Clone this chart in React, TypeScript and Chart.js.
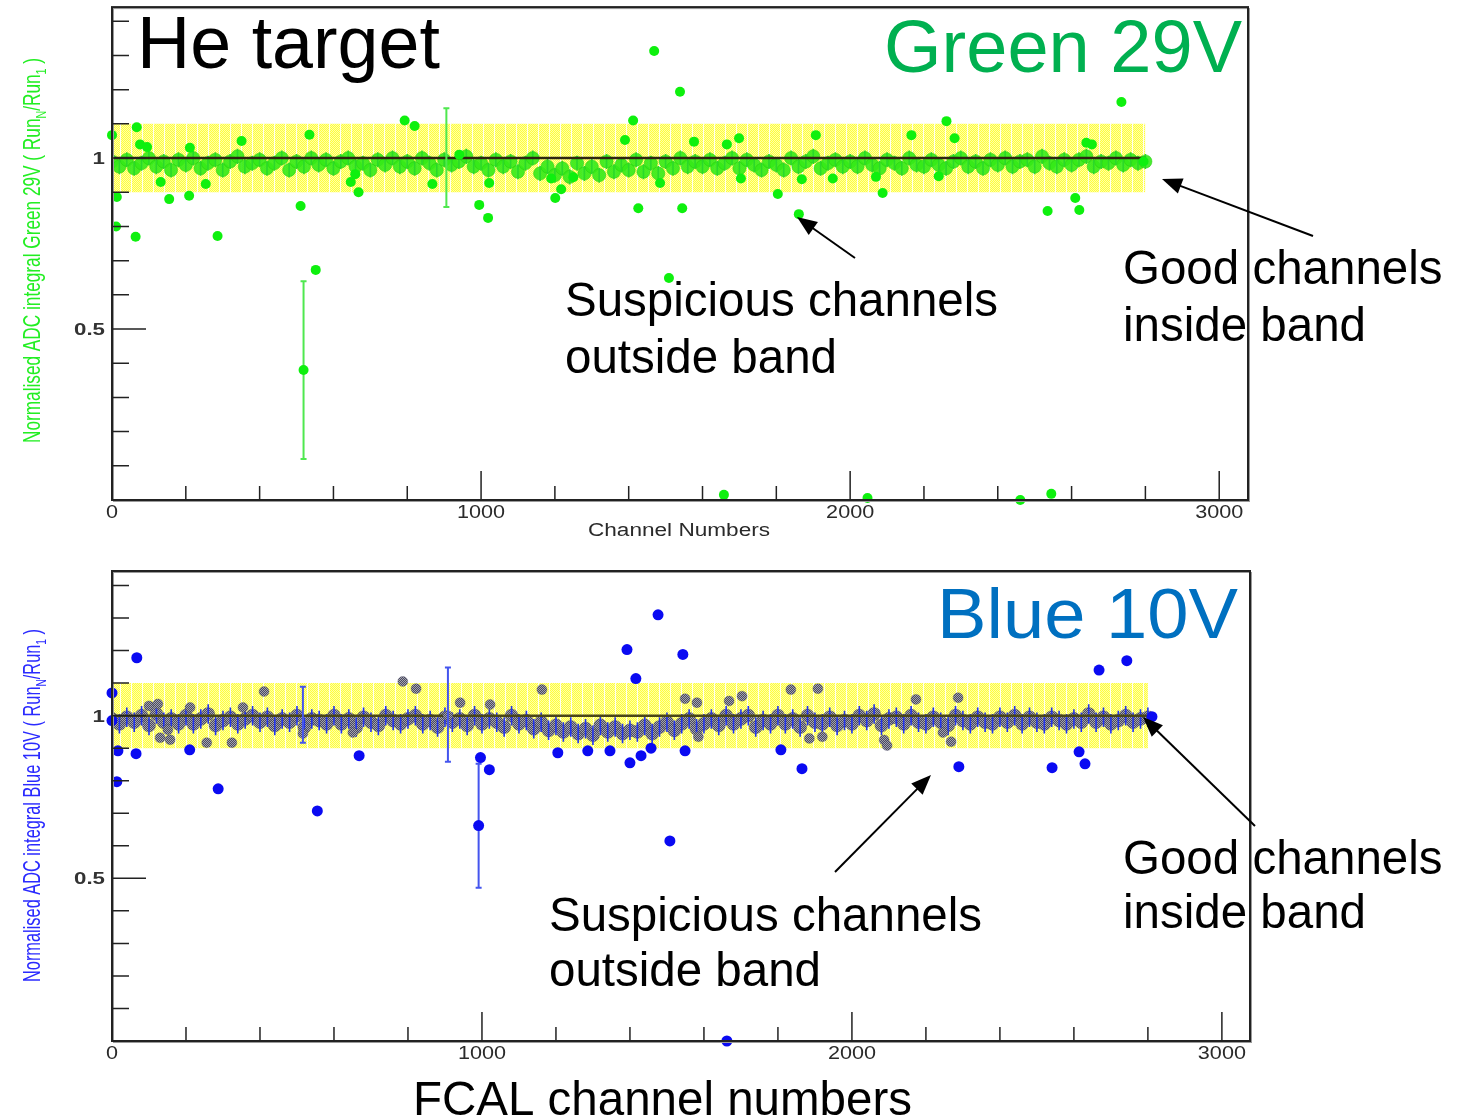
import React, { useEffect, useRef } from "react";
import { Chart, registerables } from "chart.js";

Chart.register(...registerables);

// ---------------- data ----------------
const CORE_STEP = 20; // channel spacing of the in-band core markers

const greenCore = [
  0.99, 0.975, 0.995, 0.97, 0.985, 1.0, 0.975, 0.99, 0.965, 0.995,
  0.98, 1.0, 0.97, 0.985, 0.995, 0.965, 0.99, 1.005, 0.975, 0.985,
  0.995, 0.97, 0.985, 1.0, 0.965, 0.99, 0.975, 1.0, 0.98, 0.995,
  0.97, 0.99, 1.0, 0.975, 0.985, 0.965, 0.995, 0.98, 1.0, 0.975,
  0.99, 0.97, 1.0, 0.985, 0.965, 0.995, 0.98, 0.99, 1.005, 0.975,
  0.985, 0.965, 0.995, 0.975, 0.99, 0.96, 0.985, 1.0, 0.955, 0.975,
  0.95, 0.97, 0.945, 0.985, 0.955, 0.975, 0.95, 0.99, 0.96, 0.98,
  0.965, 0.995, 0.96, 0.985, 0.955, 0.99, 0.97, 1.0, 0.975, 0.99,
  0.975, 0.995, 0.97, 0.985, 1.0, 0.97, 0.995, 0.98, 0.965, 0.99,
  0.98, 0.965, 1.0, 0.975, 0.99, 1.005, 0.97, 0.985, 0.995, 0.975,
  0.99, 0.975, 1.0, 0.98, 0.97, 0.995, 0.985, 0.97, 1.0, 0.98,
  0.975, 0.995, 0.98, 0.97, 0.99, 1.0, 0.975, 0.99, 0.97, 0.995,
  0.98, 1.0, 0.975, 0.99, 0.995, 0.975, 1.005, 0.985, 0.975, 0.995,
  0.98, 0.995, 1.005, 0.975, 0.99, 0.985, 1.0, 0.98, 0.995, 0.985,
  0.99,
];

const blueCore = [
  0.99, 0.975, 0.995, 0.98, 1.0, 0.97, 1.005, 0.98, 0.99, 0.975,
  1.0, 0.975, 0.99, 1.005, 0.97, 0.985, 0.995, 0.975, 0.99, 1.0,
  0.98, 0.995, 0.97, 0.99, 0.98, 1.0, 0.965, 0.99, 0.985, 0.975,
  1.0, 0.975, 0.99, 0.965, 0.995, 0.98, 0.97, 1.0, 0.985, 0.975,
  0.99, 1.0, 0.975, 0.985, 0.965, 0.995, 0.98, 0.99, 0.97, 1.0,
  0.975, 0.99, 0.98, 0.965, 1.0, 0.975, 0.985, 0.96, 0.98, 0.955,
  0.97, 0.95, 0.965, 0.945, 0.96, 0.94, 0.97, 0.95, 0.965, 0.945,
  0.955, 0.95, 0.97, 0.945, 0.965, 0.98, 0.955, 0.975, 0.99, 0.96,
  0.975, 0.99, 0.97, 1.0, 0.975, 0.99, 1.0, 0.965, 0.985, 0.975,
  1.0, 0.975, 0.99, 0.965, 1.0, 0.98, 0.975, 0.995, 0.97, 0.985,
  0.975, 1.0, 0.985, 1.005, 0.97, 0.99, 0.995, 0.975, 1.0, 0.98,
  0.975, 0.995, 0.98, 0.97, 1.0, 0.985, 0.975, 0.995, 0.98, 0.975,
  0.995, 0.98, 1.0, 0.975, 0.995, 0.98, 0.975, 0.995, 0.985, 0.975,
  0.99, 0.98, 1.005, 0.98, 0.995, 0.975, 0.985, 1.0, 0.98, 0.99,
  0.995,
];

const greenCoreErr = 0.022;
const blueCoreErr = 0.03;

const greenOutX = [
  0, 13, 11, 64, 67, 76, 95, 132, 155, 209,
  211, 254, 286, 351, 511, 519, 535, 552, 647, 659,
  668, 793, 820, 868, 941, 995, 1019, 1022, 1190, 1201,
  1217, 1250, 1390, 1412, 1426, 1469, 1485, 1509, 1539, 1545,
  1577, 1658, 1666, 1699, 1704, 1804, 1861, 1869, 1907, 1953,
  2047, 2070, 2088, 2166, 2240, 2261, 2283, 2461, 2535, 2545,
  2610, 2621, 2640, 2655, 2735, 2795,
];
const greenOutY = [
  1.067, 0.886, 0.8, 0.77, 1.09, 1.04, 1.032, 0.93, 0.88, 0.89,
  1.03, 0.924, 0.772, 1.05, 0.86, 0.38, 1.068, 0.673, 0.93, 0.953,
  0.9, 1.11, 1.094, 0.924, 1.01, 0.863, 0.825, 0.927, 0.94, 0.883,
  0.909, 0.944, 1.053, 1.11, 0.853, 1.313, 0.927, 0.649, 1.194, 0.853,
  1.048, 0.015, 1.04, 1.058, 0.94, 0.895, 0.836, 0.938, 1.067, 0.94,
  0.006, 0.945, 0.898, 1.067, 0.947, 1.108, 1.058, 0.0, 0.845, 0.018,
  0.883, 0.848, 1.045, 1.04, 1.164, 0.99,
];
const greenErrX = [519, 906];
const greenErrLo = [0.12, 0.857];
const greenErrHi = [0.64, 1.146];

const blueOutX = [
  0, 0, 13, 16, 65, 67, 210, 287, 555, 668,
  991, 996, 1020, 1205, 1286, 1346, 1392, 1400, 1416, 1430,
  1457, 1476, 1508, 1543, 1549, 1662, 1808, 1865, 2289, 2541,
  2614, 2630, 2668, 2743, 2811,
];
const blueOutY = [
  1.07, 0.985, 0.797, 0.892, 0.883, 1.178, 0.895, 0.775, 0.707, 0.877,
  0.662, 0.871, 0.834, 0.886, 0.892, 0.892, 1.203, 0.855, 1.114, 0.877,
  0.9, 1.31, 0.615, 1.188, 0.892, 0.0, 0.895, 0.837, 0.843, 0.84,
  0.889, 0.852, 1.14, 1.169, 0.997,
];
const blueInX = [
  100, 124, 130, 151, 157, 211, 256, 324, 354, 411,
  516, 651, 786, 822, 908, 941, 1022, 1162, 1549, 1581,
  1585, 1668, 1703, 1835, 1885, 1908, 1920, 2087, 2095, 2173,
  2246, 2268, 2287,
];
const blueInY = [
  1.03, 1.036, 0.932, 0.957, 0.926, 1.025, 0.917, 0.917, 1.025, 1.074,
  0.945, 0.948, 1.105, 1.083, 1.0, 1.04, 1.034, 1.08, 1.052, 1.04,
  0.935, 1.045, 1.06, 1.08, 0.93, 1.083, 0.935, 0.925, 0.908, 1.05,
  0.948, 0.92, 1.055,
];
const blueErrX = [516, 908, 991];
const blueErrLo = [0.917, 0.858, 0.471];
const blueErrHi = [1.089, 1.148, 0.852];

const xMajorTicks = [0, 1000, 2000, 3000];
const xMinorTicks = [200, 400, 600, 800, 1200, 1400, 1600, 1800, 2200, 2400, 2600, 2800];
const yMajorTicks = [0.5, 1];
const yMinorTicks = [0.1, 0.2, 0.3, 0.4, 0.6, 0.7, 0.8, 0.9, 1.1, 1.2, 1.3, 1.4];

const bandLow = 0.9;
const bandHigh = 1.1;
const bandStart = 0;
const bandEnd = 2800;
const refLevel = 1;

// ---------------- drawing helpers ----------------
const FONT = '"Liberation Sans", Arial, Helvetica, sans-serif';

function drawText(ctx: CanvasRenderingContext2D, text: string, x: number, y: number,
  size: number, color: string, opts: { width?: number; align?: string; weight?: string; sx?: number } = {}) {
  ctx.save();
  ctx.font = `${opts.weight || "normal"} ${size}px ${FONT}`;
  ctx.fillStyle = color;
  ctx.textBaseline = "alphabetic";
  ctx.textAlign = "left";
  const w = ctx.measureText(text).width;
  const sx = opts.width ? opts.width / w : (opts.sx || 1);
  const tw = w * sx;
  const left = opts.align === "center" ? x - tw / 2 : opts.align === "right" ? x - tw : x;
  ctx.translate(left, y);
  ctx.scale(sx, 1);
  ctx.fillText(text, 0, 0);
  ctx.restore();
}

function drawArrow(ctx: CanvasRenderingContext2D, x1: number, y1: number, x2: number, y2: number) {
  const ang = Math.atan2(y2 - y1, x2 - x1);
  const hl = 20, hw = 8;
  ctx.save();
  ctx.strokeStyle = "#000";
  ctx.fillStyle = "#000";
  ctx.lineWidth = 2;
  ctx.beginPath();
  ctx.moveTo(x1, y1);
  ctx.lineTo(x2 - Math.cos(ang) * hl * 0.8, y2 - Math.sin(ang) * hl * 0.8);
  ctx.stroke();
  ctx.beginPath();
  ctx.moveTo(x2, y2);
  ctx.lineTo(x2 - Math.cos(ang) * hl - Math.sin(ang) * hw, y2 - Math.sin(ang) * hl + Math.cos(ang) * hw);
  ctx.lineTo(x2 - Math.cos(ang) * hl + Math.sin(ang) * hw, y2 - Math.sin(ang) * hl - Math.cos(ang) * hw);
  ctx.closePath();
  ctx.fill();
  ctx.restore();
}

function drawYTitle(ctx: CanvasRenderingContext2D, baseX: number, startY: number, endY: number, color: string, main: string) {
  const F = 24;
  const segs: [string, boolean][] = [[main + " ( Run", false], ["N", true], ["/Run", false], ["1", true], [" )", false]];
  ctx.save();
  let total = 0;
  for (const [t, sub] of segs) {
    ctx.font = `${sub ? F * 0.62 : F}px ${FONT}`;
    total += ctx.measureText(t).width;
  }
  const sx = (startY - endY) / total;
  ctx.translate(baseX, startY);
  ctx.rotate(-Math.PI / 2);
  ctx.scale(sx, 1);
  ctx.fillStyle = color;
  ctx.textBaseline = "alphabetic";
  let cx = 0;
  for (const [t, sub] of segs) {
    ctx.font = `${sub ? F * 0.62 : F}px ${FONT}`;
    ctx.fillText(t, cx, sub ? 6 : 0);
    cx += ctx.measureText(t).width;
  }
  ctx.restore();
}

function drawErrBars(chart: any, eb: any) {
  const { ctx } = chart;
  const xs = chart.scales.x, ys = chart.scales.y;
  ctx.save();
  ctx.strokeStyle = eb.color;
  ctx.lineWidth = eb.width;
  ctx.beginPath();
  for (let i = 0; i < eb.x.length; i++) {
    const px = xs.getPixelForValue(eb.x[i]);
    const p1 = ys.getPixelForValue(eb.lo[i]);
    const p2 = ys.getPixelForValue(eb.hi[i]);
    ctx.moveTo(px, p1);
    ctx.lineTo(px, p2);
    if (eb.cap) {
      ctx.moveTo(px - eb.cap, p1); ctx.lineTo(px + eb.cap, p1);
      ctx.moveTo(px - eb.cap, p2); ctx.lineTo(px + eb.cap, p2);
    }
  }
  ctx.stroke();
  ctx.restore();
}

function makeBandPattern(): CanvasPattern | string {
  const c = document.createElement("canvas");
  c.width = 11; c.height = 8;
  const g = c.getContext("2d");
  if (!g) return "#ffff55";
  g.fillStyle = "#ffff3c";
  g.fillRect(0, 0, 11, 8);
  g.fillStyle = "#ffffa8";
  for (let i = 0; i < 11; i++) for (let j = 0; j < 8; j++) if ((i + j) % 2 === 0) g.fillRect(i, j, 1, 1);
  g.fillStyle = "#fffff2";
  g.fillRect(10, 0, 1, 8);
  return g.createPattern(c, "repeat") || "#ffff55";
}

function makeGrayPattern(): CanvasPattern | string {
  const c = document.createElement("canvas");
  c.width = 2; c.height = 2;
  const g = c.getContext("2d");
  if (!g) return "#888";
  g.fillStyle = "#a4a4ae"; g.fillRect(0, 0, 2, 2);
  g.fillStyle = "#4a4a60"; g.fillRect(0, 0, 1, 1); g.fillRect(1, 1, 1, 1);
  return g.createPattern(c, "repeat") || "#888";
}

const pts = (xs: number[], ys: number[]) => xs.map((x, i) => ({ x, y: ys[i] }));

// ---------------- panel config ----------------
function buildConfig(p: any) {
  const coreX = p.core.map((_: number, i: number) => i * CORE_STEP);
  const band = makeBandPattern();
  const datasets: any[] = [
    {
      label: "bandHigh", data: [{ x: bandStart, y: bandHigh }, { x: bandEnd, y: bandHigh }],
      showLine: true, borderWidth: 0, pointRadius: 0, fill: "+1", backgroundColor: band, order: 20,
    },
    {
      label: "bandLow", data: [{ x: bandStart, y: bandLow }, { x: bandEnd, y: bandLow }],
      showLine: true, borderWidth: 0, pointRadius: 0, fill: false, order: 21,
    },
    {
      label: "core", data: pts(coreX, p.core), pointRadius: 6.6, pointHoverRadius: 6.6,
      backgroundColor: p.coreFill, borderColor: p.coreBorder, borderWidth: p.coreBorderW, order: 10,
      errBars: {
        x: coreX, lo: p.core.map((v: number) => v - p.coreErr), hi: p.core.map((v: number) => v + p.coreErr),
        color: p.coreErrColor, width: 1.6, cap: 0, after: true,
      },
    },
    {
      label: "reference", data: [{ x: bandStart, y: refLevel }, { x: p.refEnd, y: refLevel }],
      showLine: true, borderColor: p.refColor, borderWidth: 2.5, pointRadius: 0, order: 5,
    },
  ];
  if (p.inX) {
    datasets.push({
      label: "inBand", data: pts(p.inX, p.inY), pointRadius: 5, pointHoverRadius: 5,
      backgroundColor: p.coreFill, borderColor: p.coreBorder, borderWidth: p.coreBorderW, order: 4,
    });
  }
  datasets.push({
    label: "outliers", data: pts(p.outX, p.outY), pointRadius: p.outR, pointHoverRadius: p.outR,
    backgroundColor: p.outColor, borderColor: p.outColor, borderWidth: 0, order: 2, clip: false,
    errBars: { x: p.errX, lo: p.errLo, hi: p.errHi, color: p.errColor, width: 2, cap: 3, after: false },
  });

  const decor = {
    id: "panelDecor",
    beforeDatasetDraw(chart: any, args: any) {
      const ds = chart.data.datasets[args.index];
      if (ds.errBars && !ds.errBars.after) drawErrBars(chart, ds.errBars);
    },
    afterDatasetDraw(chart: any, args: any) {
      const ds = chart.data.datasets[args.index];
      if (ds.errBars && ds.errBars.after) drawErrBars(chart, ds.errBars);
    },
    afterDraw(chart: any) {
      const { ctx, chartArea: a } = chart;
      const xs = chart.scales.x, ys = chart.scales.y;
      ctx.save();
      // frame
      ctx.strokeStyle = "#9a9a9a";
      ctx.lineWidth = 1;
      ctx.strokeRect(a.left + 1.5, a.top + 1.5, a.right - a.left, a.bottom - a.top);
      ctx.strokeStyle = "#222";
      ctx.lineWidth = 2;
      ctx.strokeRect(a.left, a.top, a.right - a.left, a.bottom - a.top);
      // ticks
      ctx.lineWidth = 1.5;
      ctx.beginPath();
      for (const v of xMajorTicks) { const px = xs.getPixelForValue(v); ctx.moveTo(px, a.bottom); ctx.lineTo(px, a.bottom - 29); }
      for (const v of xMinorTicks) { const px = xs.getPixelForValue(v); ctx.moveTo(px, a.bottom); ctx.lineTo(px, a.bottom - 14); }
      for (const v of yMajorTicks) { const py = ys.getPixelForValue(v); ctx.moveTo(a.left, py); ctx.lineTo(a.left + 34, py); }
      for (const v of yMinorTicks) { const py = ys.getPixelForValue(v); ctx.moveTo(a.left, py); ctx.lineTo(a.left + 17, py); }
      ctx.stroke();
      ctx.restore();
      // tick labels
      for (const v of xMajorTicks) {
        drawText(ctx, String(v), xs.getPixelForValue(v), a.bottom + 18, 18, "#2a2a2a", { align: "center", sx: 1.2 });
      }
      for (const v of yMajorTicks) {
        drawText(ctx, String(v), 105, ys.getPixelForValue(v) + 6, 16.5, "#333", { align: "right", weight: "bold", sx: 1.35 });
      }
      if (p.xTitle) drawText(ctx, p.xTitle, 588, 536, 18, "#2a2a2a", { width: 182 });
      drawYTitle(ctx, 40, p.yTitleStart, p.yTitleEnd, p.yTitleColor, p.yTitle);
      p.annotate(ctx);
    },
  };

  return {
    type: "scatter",
    data: { datasets },
    plugins: [decor],
    options: {
      animation: false,
      responsive: false,
      devicePixelRatio: 1,
      events: [],
      layout: { padding: { left: 0, top: p.padTop, right: p.padRight, bottom: 0 } },
      plugins: { legend: { display: false }, tooltip: { enabled: false }, title: { display: false } },
      scales: {
        x: {
          type: "linear", min: 0, max: p.xMax,
          grid: { display: false }, border: { display: false }, ticks: { display: false },
          afterFit: (s: any) => { s.height = p.xAxisH; },
        },
        y: {
          type: "linear", min: 0, max: p.yMax,
          grid: { display: false }, border: { display: false }, ticks: { display: false },
          afterFit: (s: any) => { s.width = 112; },
        },
      },
    },
  };
}

const bigText = (ctx: CanvasRenderingContext2D, t: string, x: number, y: number) =>
  drawText(ctx, t, x, y, 47.5, "#000");

const topPanel = {
  core: greenCore, coreErr: greenCoreErr,
  coreFill: "rgba(52,234,24,0.9)", coreBorder: "rgba(30,200,10,0.9)", coreBorderW: 0.5,
  coreErrColor: "#2ad82a", refColor: "#2e2610", refEnd: 2800,
  outX: greenOutX, outY: greenOutY, outColor: "#0ef00e", outR: 5,
  errX: greenErrX, errLo: greenErrLo, errHi: greenErrHi, errColor: "#4fe84f",
  xMax: 3078, yMax: 1.4415, padTop: 6, padRight: 225, xAxisH: 45,
  xTitle: "Channel Numbers",
  yTitle: "Normalised ADC integral Green 29V", yTitleColor: "#22ee22", yTitleStart: 443, yTitleEnd: 58,
  annotate(ctx: CanvasRenderingContext2D) {
    drawText(ctx, "He target", 137, 68, 74, "#000", { width: 303 });
    drawText(ctx, "Green 29V", 884, 72, 74, "#00b050", { width: 358 });
    bigText(ctx, "Suspicious channels", 565, 316);
    bigText(ctx, "outside band", 565, 373);
    bigText(ctx, "Good channels", 1123, 284);
    bigText(ctx, "inside band", 1123, 341);
    drawArrow(ctx, 855, 258, 797, 217);
    drawArrow(ctx, 1313, 236, 1162, 179);
  },
};

const OFF = 545;
const bottomPanel = {
  core: blueCore, coreErr: blueCoreErr,
  coreFill: null as any, coreBorder: "rgba(60,60,90,0.6)", coreBorderW: 0.5,
  coreErrColor: "#2233ee", refColor: "#4a4618", refEnd: 2810,
  inX: blueInX, inY: blueInY,
  outX: blueOutX, outY: blueOutY, outColor: "#0a0af2", outR: 5.5,
  errX: blueErrX, errLo: blueErrLo, errHi: blueErrHi, errColor: "#4455ee",
  xMax: 3076, yMax: 1.4446, padTop: 26, padRight: 223, xAxisH: 78,
  xTitle: "",
  yTitle: "Normalised ADC integral Blue 10V", yTitleColor: "#2a2aff", yTitleStart: 982 - OFF, yTitleEnd: 629 - OFF,
  annotate(ctx: CanvasRenderingContext2D) {
    drawText(ctx, "Blue 10V", 937, 638 - OFF, 70, "#0070c0", { width: 301 });
    bigText(ctx, "Suspicious channels", 549, 931 - OFF);
    bigText(ctx, "outside band", 549, 986 - OFF);
    bigText(ctx, "Good channels", 1123, 874 - OFF);
    bigText(ctx, "inside band", 1123, 928 - OFF);
    bigText(ctx, "FCAL channel numbers", 413, 1115 - OFF);
    drawArrow(ctx, 835, 872 - OFF, 931, 775 - OFF);
    drawArrow(ctx, 1255, 826 - OFF, 1143, 717 - OFF);
  },
};

export default function App() {
  const topRef = useRef<HTMLCanvasElement>(null);
  const botRef = useRef<HTMLCanvasElement>(null);
  useEffect(() => {
    if (!topRef.current || !botRef.current) return;
    bottomPanel.coreFill = makeGrayPattern();
    const c1 = new Chart(topRef.current, buildConfig(topPanel) as any);
    const c2 = new Chart(botRef.current, buildConfig(bottomPanel) as any);
    return () => { c1.destroy(); c2.destroy(); };
  }, []);
  return (
    <div style={{ position: "absolute", left: 0, top: 0, width: 1473, height: 1119, background: "#fff", overflow: "hidden" }}>
      <canvas ref={topRef} width={1473} height={545}
        style={{ position: "absolute", left: 0, top: 0, width: 1473, height: 545 }} />
      <canvas ref={botRef} width={1473} height={574}
        style={{ position: "absolute", left: 0, top: 545, width: 1473, height: 574 }} />
    </div>
  );
}
